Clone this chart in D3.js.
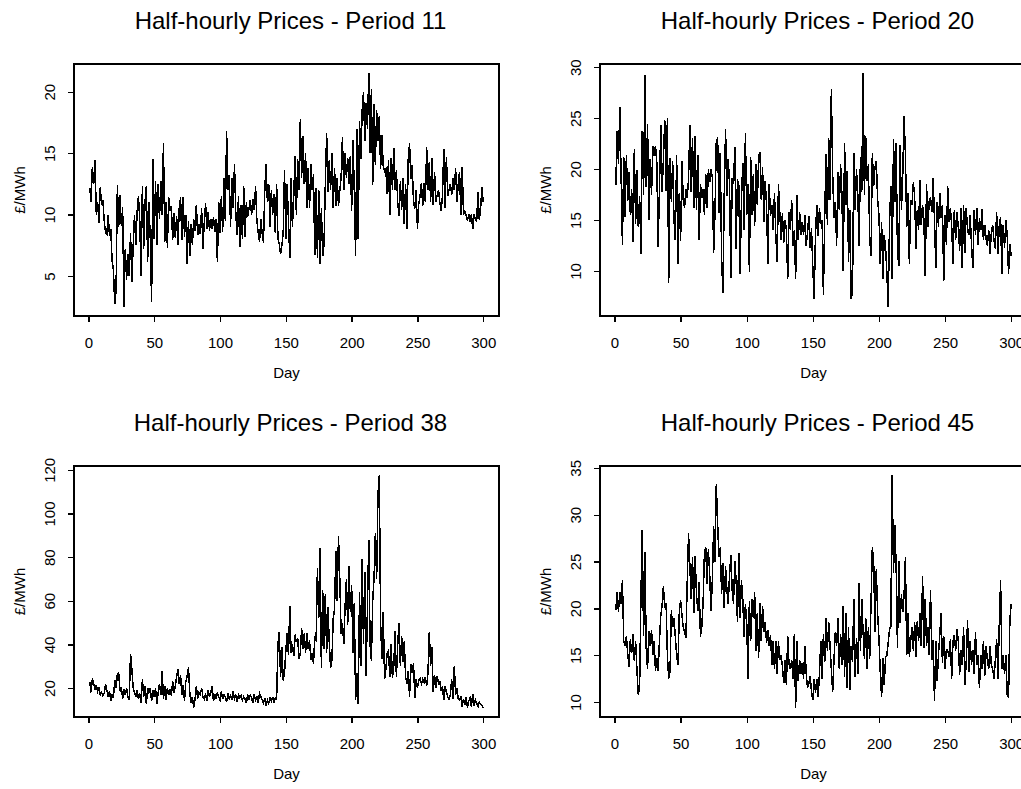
<!DOCTYPE html>
<html>
<head>
<meta charset="utf-8">
<script src="https://cdn.jsdelivr.net/npm/d3@7/dist/d3.min.js"></script>
<style>
  body { margin: 0; background: #ffffff; }
  svg { display: block; }
  text { font-family: "Liberation Sans", Arial, sans-serif; fill: #000; }
</style>
</head>
<body>
<svg id="chart" width="1021" height="789"></svg>
<script>
// Daily prices (£/MWh) for four half-hourly trading periods, days 1..300
const days = d3.range(1, 301);

const period11 = [
  12.2, 11, 13.9, 12.5, 14.4, 10, 11, 9.3, 12.2, 10.8,
  11.2, 9.5, 8.5, 8.4, 10, 8.3, 8.8, 6.2, 5.5, 2.7,
  3.8, 12.4, 9, 11.6, 9.1, 10.6, 2.5, 7.2, 4.7, 6.8,
  5, 8.5, 4.5, 7.4, 10, 7.5, 10.2, 11.5, 9.5, 5,
  12.3, 7.2, 11, 12.3, 6.1, 11, 8, 2.9, 14.5, 8,
  12.7, 7.5, 12.5, 9.6, 12.7, 10, 15.8, 7.8, 11, 7.3,
  11.4, 10.3, 10.7, 7.9, 10.1, 8.1, 9.9, 7.5, 10.5, 11.4,
  7.9, 11.4, 8.2, 10, 6, 9.5, 6.6, 9.2, 7.5, 9.6,
  8.7, 10.8, 8.3, 9.2, 8.4, 10.5, 7.2, 9.3, 10.9, 8.8,
  10.2, 8.7, 9.6, 8.8, 9.8, 8.6, 9.6, 6.1, 11, 8.5,
  11.5, 8.6, 13, 9.5, 16.8, 12, 13.2, 9, 13, 10.5,
  14.1, 10, 8.3, 11.5, 7.4, 10.8, 8, 12.3, 8.2, 11,
  9.8, 10.5, 11.2, 10, 11.3, 10.4, 12.3, 9.5, 8.5, 7.8,
  9.6, 8.5, 7.7, 12, 14.1, 11, 12.5, 9, 12, 10,
  11.7, 8.5, 12.5, 8, 7.6, 6.8, 7.5, 8.5, 13.6, 8,
  12.5, 9.5, 6.5, 13, 9, 11.5, 14.8, 10, 14.5, 12,
  17.8, 13, 16.4, 12.5, 15, 10.5, 13.8, 10.5, 14.1, 12,
  13.3, 6.7, 12.2, 6.5, 12, 6, 10.5, 6.6, 7.5, 12.5,
  16.6, 11.8, 14.4, 12, 15, 10.5, 13.8, 10.7, 13, 10.7,
  12, 13, 16.3, 12, 15, 13, 14.6, 12.5, 14.8, 10.3,
  16.1, 12, 6.6, 17, 8, 17.6, 14.5, 18.5, 20, 16,
  19.1, 17, 21.5, 15, 20.2, 12.4, 19, 14, 18.5, 16,
  18, 13.7, 16.5, 14, 13.5, 13.7, 11.7, 14.4, 10, 14.6,
  12, 15.4, 12, 13.6, 11, 9.9, 12.7, 10.4, 13, 9.2,
  12.5, 8.8, 14.5, 15.8, 12.9, 14, 11, 10.5, 12, 8.8,
  10.9, 11.5, 12.6, 10.7, 12.6, 11, 15.5, 12, 14.3, 11,
  14.6, 10.8, 13.5, 11, 11.6, 12, 11, 10.3, 11.5, 15.3,
  10.5, 14.7, 11.5, 12, 12.5, 11.6, 13, 12, 13.8, 11,
  12.5, 13.5, 10, 13.9, 10, 10.3, 9.9, 9.5, 10, 9.4,
  10, 8.8, 10, 9.6, 9.5, 11.8, 9.6, 10.5, 12.2, 11
];

const period20 = [
  18.4, 23.7, 20.5, 26.1, 19.4, 12.6, 21.2, 15.3, 21.4, 16.9,
  19.7, 15.5, 18, 12.8, 22, 14.6, 19.9, 14.3, 17.4, 11.7,
  23.7, 17.5, 29.2, 18.2, 24.4, 15, 21, 17.5, 22.3, 21.3,
  22.3, 20.6, 12.4, 18, 24.3, 17.8, 21, 24.8, 17.9, 25,
  8.8, 21.1, 16.8, 20.8, 15, 13, 21.4, 10.7, 17.7, 12.9,
  20.8, 17, 16.2, 18, 17.2, 19, 24.3, 17.8, 23.1, 16.2,
  23.2, 16, 21.4, 13, 18.5, 17.2, 18, 15.5, 19.5, 16.2,
  20, 18.7, 20, 19.2, 11.8, 15.6, 22.7, 23.1, 15.7, 21.6,
  11.3, 7.8, 17.5, 23.9, 17.4, 21, 18.5, 9.3, 19.1, 18.5,
  22.2, 12.2, 19, 18.4, 9.7, 16.9, 20.6, 14, 23.5, 15.5,
  18.5, 9.9, 21.2, 15.5, 19.5, 14.4, 20.5, 16.5, 21.2, 21.7,
  17, 20.2, 14.8, 18.8, 16.5, 10.7, 18.5, 15.4, 16.5, 14,
  17.7, 13.5, 10.9, 18.5, 15.8, 13, 15.7, 12.8, 15, 14,
  9.2, 15.8, 14, 17, 12.5, 14, 9.2, 17.5, 13, 15.8,
  13.5, 14.8, 13.5, 15.5, 12.5, 13.8, 15.4, 12.3, 14.2, 10.3,
  7.3, 13.5, 16.5, 13.4, 16.2, 14.6, 15, 7.6, 15.5, 21.5,
  14.5, 23.1, 17, 27.9, 19.5, 15.2, 16.8, 12.5, 19.7, 16,
  20.5, 17.5, 10, 22.6, 16.5, 19.8, 10.9, 16, 7.3, 7.9,
  21.6, 16, 20, 17.5, 12.5, 21.2, 17.8, 29.4, 17.5, 23.2,
  18.8, 20.5, 13.2, 11.5, 21.6, 18.3, 20.2, 20.8, 17, 15.5,
  10.7, 14.8, 9.2, 13.5, 12.3, 9.8, 6.5, 14.8, 18.3, 9.2,
  23, 16.8, 22.6, 12, 10.5, 22.4, 16, 19.5, 25.2, 21.5,
  14.3, 17.7, 10.7, 17, 16.5, 18.7, 17.3, 12.2, 16, 14,
  18.9, 14.5, 16.5, 15, 9.5, 18.5, 14.3, 16.8, 17.2, 15.8,
  19.1, 15, 10.3, 16.8, 14.3, 17.7, 15.2, 16.5, 9, 15.5,
  12.6, 18.3, 14.8, 16.2, 14.5, 10.7, 16, 13, 15.8, 14.3,
  12, 16.2, 10.3, 16.5, 11.8, 16.2, 14, 13.5, 15.5, 12.6,
  10.3, 16, 13.5, 16.2, 12.6, 15.2, 14, 16.1, 13, 14.5,
  13.2, 12.5, 14, 11.7, 13.8, 14.5, 13, 12.2, 15.8, 11.7,
  14.5, 15.3, 9.7, 14.5, 12.3, 15, 13.5, 9.7, 12.6, 11.5
];

const period38 = [
  22.8, 18, 24.5, 22, 19.5, 21.5, 18.5, 20, 17, 18,
  16.5, 17.5, 22, 19, 16, 18.5, 14, 17, 15.5, 23.5,
  20, 26.5, 27, 18.5, 20.5, 15, 19.5, 17, 20, 16,
  14.5, 35.7, 28.5, 20, 18, 16, 19, 15, 17.5, 13,
  24, 16, 21, 12.8, 20, 18, 20, 14, 19, 16,
  20, 12.5, 18, 22, 17, 28, 15, 21, 14.5, 20,
  17, 19, 16.5, 23, 18, 21, 25, 28.5, 22, 26,
  17, 21.5, 14, 23, 25.5, 29.5, 18, 13, 16, 11,
  15, 21, 15, 18, 17, 20, 16, 15, 17.5, 14,
  19, 16, 18, 21, 14, 17, 15, 18, 16, 14.5,
  18.5, 15, 17, 16, 13.5, 17.5, 15, 16.5, 14.5, 18.5,
  15, 16.5, 13.5, 17, 15.5, 16.5, 14.5, 16, 15, 13,
  17, 14.5, 16.8, 15.5, 13, 17, 14.5, 16, 13, 17.5,
  16, 14.5, 13, 15.5, 12, 14.5, 13, 15.5, 14, 16,
  13, 15.5, 15, 40, 45.5, 25, 39, 23.5, 27, 37,
  45, 35, 57.5, 36, 40, 34.5, 44.5, 41, 43, 33.5,
  36, 47.6, 38, 45, 36, 45, 38, 42, 33, 36,
  31, 43, 42, 75, 52, 84, 29, 65, 38, 63,
  36, 57, 41, 29, 33, 52, 56, 83, 60, 89.5,
  70, 45, 50, 40, 57, 70, 49, 76, 55, 67,
  36, 59, 14.5, 27, 12.8, 64, 30, 79, 40, 73,
  25.5, 57, 88, 40, 32.5, 60, 70, 91, 70, 109,
  117.5, 50, 33.5, 55, 24, 28.5, 36, 37, 25, 40,
  24.5, 30, 46, 25, 40, 49.6, 30, 44, 32, 41.5,
  25, 22, 28, 16, 31, 27, 31.5, 15.3, 24, 20,
  23.5, 24.5, 22, 24, 22.5, 25, 21, 27, 45.5, 30,
  39, 18, 26, 20, 25.5, 22, 23, 18.5, 21, 14.5,
  21, 18, 16, 14.8, 17, 24, 15, 30, 17, 20,
  15, 14.5, 16, 11.5, 15, 12.5, 16, 11, 14, 15.5,
  11.5, 17.3, 12, 14.5, 13, 11.5, 13.5, 12.5, 12, 11
];

const period45 = [
  19.8, 21.7, 19.6, 21.7, 20.5, 23, 16.5, 16, 17, 15.2,
  13.7, 16.7, 15.2, 17.3, 14.4, 16.5, 13.3, 10.8, 11.6, 21.3,
  28.4, 17, 26, 15.7, 13.5, 17.6, 16, 17.7, 15, 16.5,
  13.3, 14.7, 13.3, 16.5, 19.2, 20.3, 22.4, 20, 20.6, 15,
  12.5, 13.2, 19.8, 18, 19, 17, 15, 14, 19.5, 20.9,
  19.3, 18, 17.5, 16.8, 22.7, 28, 24.6, 21, 25.5, 19.5,
  25.6, 21.5, 19.7, 22.8, 17, 18, 20.5, 25.9, 26.5, 22.6,
  26.3, 23.6, 19.7, 23, 28.8, 25, 33.3, 29, 25.5, 26.5,
  21.5, 24.8, 20, 24.5, 22, 20.5, 23.5, 25.7, 22, 20.5,
  25, 23, 18.5, 25.9, 19, 23, 21, 17, 20.5, 18.5,
  12.5, 20.8, 16.5, 21, 19, 21.7, 15.4, 19.5, 14.7, 20.6,
  16.5, 20.3, 17.5, 18.5, 16.3, 17.7, 16, 17.2, 14, 16.5,
  13.5, 16.5, 13, 16.5, 14.5, 15, 13.8, 12, 14.5, 11.8,
  17, 14, 13.5, 14.5, 12.5, 17.3, 9.4, 16.5, 12.2, 14.5,
  13, 14.2, 12.5, 16, 13, 11.5, 12, 12.8, 11, 10.2,
  12.5, 11, 12.5, 10.6, 13, 16.5, 12.5, 17.3, 14.3, 19,
  15.5, 18.5, 16, 13.5, 11.1, 14.5, 17.5, 16, 19, 13.5,
  17.3, 14, 20.3, 12.7, 19.5, 11.5, 18, 11.3, 16, 14.3,
  21, 12.7, 16.8, 13, 22.7, 15.5, 21, 17.5, 14.6, 19,
  13.5, 18, 14.6, 20.5, 26.5, 25, 17.5, 24.2, 19.5, 16.8,
  13.2, 10.5, 14.7, 11.8, 14.8, 15, 16.4, 17.8, 18.1, 34.2,
  23.8, 28.9, 24.5, 15.8, 25, 18.4, 21.5, 19.6, 21.4, 25.5,
  15, 19.5, 14.8, 16.5, 18, 15.5, 18.5, 14.8, 18.7, 16.5,
  19.5, 16, 23.4, 15.8, 21, 16, 18, 15, 22, 14.5,
  16.6, 10.1, 16.5, 12.3, 15, 17.2, 19.5, 14.2, 17, 13.5,
  15.6, 15.5, 14.8, 16.7, 12.5, 16.5, 17.2, 15.5, 17.8, 16.5,
  12.9, 15.5, 14, 18, 11.8, 14.3, 18.8, 13.2, 16.5, 14,
  15.5, 13, 17.5, 14, 15, 11.5, 15, 13.5, 16.5, 12.8,
  16, 14.5, 13.5, 16, 14, 13.5, 12.5, 14.5, 16.7, 12.5,
  18.3, 23, 13.5, 15, 13, 15, 10.8, 10.5, 18.8, 20.5
];

const xTicks = [0, 50, 100, 150, 200, 250, 300];
const yTicks11 = [5, 10, 15, 20];
const yTicks20 = [10, 15, 20, 25, 30];
const yTicks38 = [20, 40, 60, 80, 100, 120];
const yTicks45 = [10, 15, 20, 25, 30, 35];

const periodNames = ["11", "20", "38", "45"];
const xLabel = "Day";
const yLabel = "£/MWh";

// One plot per period, laid out on a 2 x 2 grid
const panels = [
  { period: periodNames[0], values: period11, yTicks: yTicks11, box: { l: 74,  r: 499,  t: 64,  b: 316 } },
  { period: periodNames[1], values: period20, yTicks: yTicks20, box: { l: 600, r: 1027, t: 64,  b: 316 } },
  { period: periodNames[2], values: period38, yTicks: yTicks38, box: { l: 74,  r: 499,  t: 466, b: 717 } },
  { period: periodNames[3], values: period45, yTicks: yTicks45, box: { l: 600, r: 1027, t: 466, b: 717 } }
];

const svg = d3.select("#chart");

// Pad a range by 4% on each side, like the usual statistical plot defaults
function padded(extent) {
  const d = (extent[1] - extent[0]) * 0.04;
  return [extent[0] - d, extent[1] + d];
}

panels.forEach(p => {
  const { l, r, t, b } = p.box;
  const g = svg.append("g");

  const x = d3.scaleLinear().domain(padded(d3.extent(days))).range([l, r]);
  const y = d3.scaleLinear().domain(padded(d3.extent(p.values))).range([b, t]);

  // Price series
  const line = d3.line()
    .x((d, i) => x(days[i]))
    .y(d => y(d));

  g.append("path")
    .datum(p.values)
    .attr("d", line)
    .attr("fill", "none")
    .attr("stroke", "#000")
    .attr("stroke-width", 1.5)
    .attr("stroke-linejoin", "miter")
    .attr("shape-rendering", "crispEdges");

  // Frame around the plotting region
  g.append("rect")
    .attr("x", l).attr("y", t)
    .attr("width", r - l).attr("height", b - t)
    .attr("fill", "none")
    .attr("stroke", "#000")
    .attr("stroke-width", 1.3)
    .attr("shape-rendering", "crispEdges");

  // Bottom axis
  const xAxis = g.append("g")
    .attr("transform", `translate(0,${b})`)
    .call(d3.axisBottom(x).tickValues(xTicks).tickSize(6).tickSizeOuter(0).tickFormat(d3.format("d")));
  xAxis.select(".domain").remove();
  xAxis.selectAll("line").attr("stroke", "#000").attr("stroke-width", 1.3).attr("shape-rendering", "crispEdges");
  xAxis.selectAll("text")
    .attr("y", 32).attr("dy", null)
    .attr("font-size", 15)
    .attr("font-family", "'Liberation Sans', Arial, sans-serif")
    .attr("fill", "#000");

  // Left axis, labels turned to read upward
  const yAxis = g.append("g")
    .attr("transform", `translate(${l},0)`)
    .call(d3.axisLeft(y).tickValues(p.yTicks).tickSize(6).tickSizeOuter(0).tickFormat(d3.format("d")));
  yAxis.select(".domain").remove();
  yAxis.selectAll("line").attr("stroke", "#000").attr("stroke-width", 1.3).attr("shape-rendering", "crispEdges");
  yAxis.selectAll("text")
    .attr("x", 0).attr("y", 0).attr("dy", null)
    .attr("transform", "translate(-19,0) rotate(-90)")
    .attr("text-anchor", "middle")
    .attr("font-size", 15)
    .attr("font-family", "'Liberation Sans', Arial, sans-serif")
    .attr("fill", "#000");

  // Axis titles
  g.append("text")
    .attr("x", (l + r) / 2).attr("y", b + 62)
    .attr("text-anchor", "middle")
    .attr("font-size", 15)
    .text(xLabel);

  g.append("text")
    .attr("transform", `translate(${l - 49},${(t + b) / 2}) rotate(-90)`)
    .attr("text-anchor", "middle")
    .attr("font-size", 15)
    .text(yLabel);

  // Plot title
  g.append("text")
    .attr("x", (l + r) / 2 + 4).attr("y", t - 35)
    .attr("text-anchor", "middle")
    .attr("font-size", 24)
    .text(`Half-hourly Prices - Period ${p.period}`);
});
</script>
</body>
</html>
